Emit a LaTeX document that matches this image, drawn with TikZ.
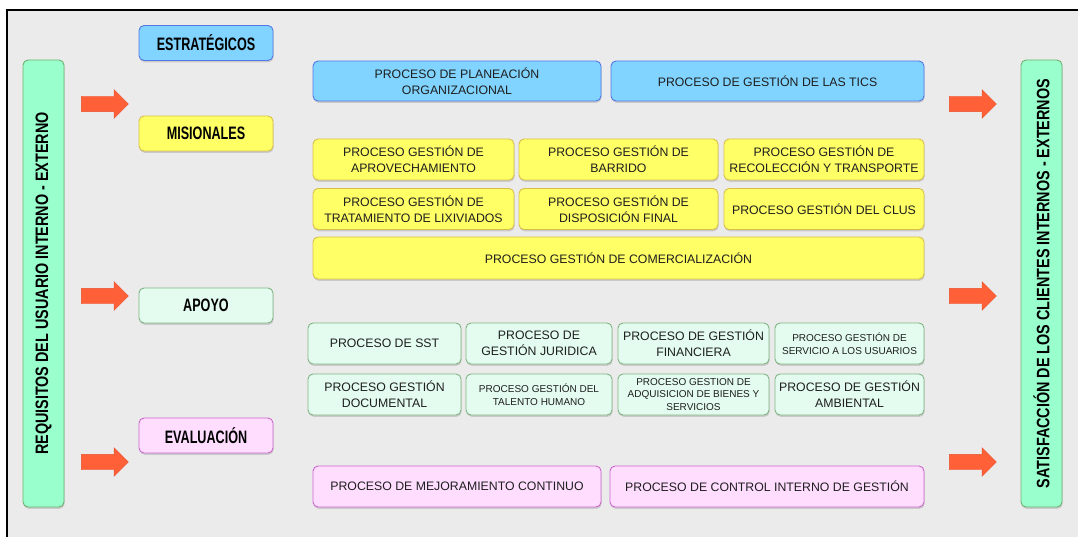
\documentclass[tikz,border=0pt]{standalone}
\usepackage{fontspec}
\setmainfont{Liberation Sans}
\newfontfamily\catfont{Liberation Sans}[FakeStretch=0.7]
\newfontfamily\sidefont{Liberation Sans}[FakeStretch=0.8]
\usetikzlibrary{shapes.arrows,shadows}

\definecolor{bggray}{HTML}{EBEBEB}
\definecolor{estfill}{HTML}{80D4FF}
\definecolor{estline}{HTML}{5577E6}
\definecolor{misfill}{HTML}{FFFF66}
\definecolor{misline}{HTML}{D9BE4A}
\definecolor{apofill}{HTML}{E3FCEF}
\definecolor{apoline}{HTML}{80B482}
\definecolor{evafill}{HTML}{FFDDFF}
\definecolor{evaline}{HTML}{CC66CC}
\definecolor{mint}{HTML}{99FFCC}
\definecolor{mintline}{HTML}{70B070}
\definecolor{arrowred}{HTML}{FF6038}
\definecolor{arrowline}{HTML}{E8502C}
\definecolor{textgray}{HTML}{1E1E1E}

\begin{document}
\begin{tikzpicture}
  [x=1pt,y=-1pt,
   box/.style={draw,rounded corners=5pt,line width=0.9pt,align=center,inner sep=1pt,
     drop shadow={shadow xshift=0.6pt,shadow yshift=-1.8pt,opacity=0.3}},
   cat/.style={box,minimum width=134pt,minimum height=35pt,text=black,
     font=\catfont\bfseries\fontsize{18}{20}\selectfont},
   proc/.style={box,minimum height=41pt,text=textgray,font=\fontsize{12.3}{16}\selectfont},
   small/.style={font=\fontsize{10}{12.5}\selectfont},
   est/.style={fill=estfill,draw=estline},
   mis/.style={fill=misfill,draw=misline},
   apo/.style={fill=apofill,draw=apoline},
   eva/.style={fill=evafill,draw=evaline},
   side/.style={box,rotate=90,minimum width=447pt,minimum height=41pt,fill=mint,draw=mintline,
     font=\sidefont\bfseries\fontsize{18}{20}\selectfont},
   bigarrow/.style={single arrow,fill=arrowred,draw=arrowline,line width=0.4pt,minimum width=28pt,
     minimum height=47pt,single arrow head extend=6.5pt,inner xsep=0pt,inner ysep=7.5pt}]

  % frame
  \useasboundingbox (0,0) rectangle (1078,537);
  \fill[white] (0,0) rectangle (1078,537);
  \fill[bggray] (7,10) rectangle (1078,537);
  \draw[line width=2pt] (1078,10) -- (7,10) -- (7,537);

  % side boxes
  \node[side] (req) at (43.5,283.5) {REQUISITOS DEL USUARIO INTERNO - EXTERNO};
  \node[side] (sat) at (1041.5,283.5) {SATISFACCIÓN DE LOS CLIENTES INTERNOS - EXTERNOS};

  % categories
  \node[cat,est] (estrat) at (206,43) {ESTRATÉGICOS};
  \node[cat,mis] (misio) at (206,133.5) {MISIONALES};
  \node[cat,apo] (apoyo) at (206,305.5) {APOYO};
  \node[cat,eva] (evalu) at (206,435.5) {EVALUACIÓN};

  % estrategicos
  \node[proc,est,minimum width=288pt,minimum height=40pt] (plan) at (457,81) {PROCESO DE PLANEACIÓN\\ORGANIZACIONAL};
  \node[proc,est,minimum width=313pt,minimum height=40pt] (tics) at (767.5,81) {PROCESO DE GESTIÓN DE LAS TICS};

  % misionales
  \node[proc,mis,minimum width=201pt] (aprov) at (413.5,159.5) {PROCESO GESTIÓN DE\\APROVECHAMIENTO};
  \node[proc,mis,minimum width=199pt] (barr) at (618.5,159.5) {PROCESO GESTIÓN DE\\BARRIDO};
  \node[proc,mis,minimum width=200pt] (recol) at (824,159.5) {PROCESO GESTIÓN DE\\RECOLECCIÓN Y TRANSPORTE};
  \node[proc,mis,minimum width=201pt] (lixiv) at (413.5,209) {PROCESO GESTIÓN DE\\TRATAMIENTO DE LIXIVIADOS};
  \node[proc,mis,minimum width=199pt] (dispo) at (618.5,209) {PROCESO GESTIÓN DE\\DISPOSICIÓN FINAL};
  \node[proc,mis,minimum width=200pt] (clus) at (824,209) {PROCESO GESTIÓN DEL CLUS};
  \node[proc,mis,minimum width=611pt,minimum height=42pt] (comer) at (618.5,258) {PROCESO GESTIÓN DE COMERCIALIZACIÓN};

  % apoyo
  \node[proc,apo,minimum width=153pt] (sst) at (384.5,343.5) {PROCESO DE SST};
  \node[proc,apo,minimum width=146pt] (jurid) at (539,343.5) {PROCESO DE\\GESTIÓN JURIDICA};
  \node[proc,apo,minimum width=151pt] (finan) at (693.5,343.5) {PROCESO DE GESTIÓN\\FINANCIERA};
  \node[proc,apo,small,minimum width=149pt] (servi) at (849.5,343.5) {PROCESO GESTIÓN DE\\SERVICIO A LOS USUARIOS};
  \node[proc,apo,minimum width=153pt] (docum) at (384.5,394.5) {PROCESO GESTIÓN\\DOCUMENTAL};
  \node[proc,apo,small,minimum width=146pt] (talen) at (539,394.5) {PROCESO GESTIÓN DEL\\TALENTO HUMANO};
  \node[proc,apo,small,minimum width=151pt] (adqui) at (693.5,394.5) {PROCESO GESTION DE\\ADQUISICION DE BIENES Y\\SERVICIOS};
  \node[proc,apo,minimum width=149pt] (ambie) at (849.5,394.5) {PROCESO DE GESTIÓN\\AMBIENTAL};

  % evaluacion
  \node[proc,eva,minimum width=288pt] (mejor) at (457,486.5) {PROCESO DE MEJORAMIENTO CONTINUO};
  \node[proc,eva,minimum width=314pt] (contr) at (767,486.5) {PROCESO DE CONTROL INTERNO DE GESTIÓN};

  % arrows
  \foreach \y [count=\i] in {104,296,462} {
    \node[bigarrow] (inarrow\i) at (101,\y) {};
    \node[bigarrow] (outarrow\i) at (969,\y) {};
  }
\end{tikzpicture}
\end{document}
